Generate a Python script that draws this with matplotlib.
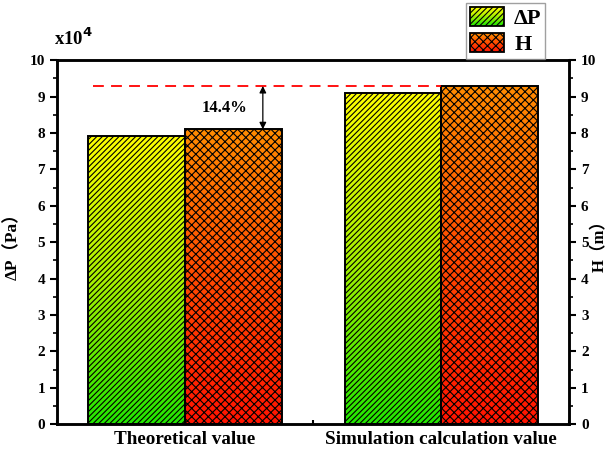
import numpy as np
import matplotlib
matplotlib.use('Agg')
import matplotlib.pyplot as plt
from matplotlib.colors import LinearSegmentedColormap
from matplotlib.patches import Rectangle
from matplotlib.legend_handler import HandlerBase
from matplotlib.ticker import MultipleLocator

plt.rcParams['font.family'] = ['Liberation Serif', 'DejaVu Serif']
plt.rcParams['font.weight'] = 'bold'
plt.rcParams['hatch.linewidth'] = 0.8

# data (x10^4 Pa and m)
categories = ['Theoretical value', 'Simulation calculation value']
dp_values = [7.92, 9.10]
h_values = [8.10, 9.29]
ref_line = 9.29
gap_label = '14.4%'

cmap_dp = LinearSegmentedColormap.from_list('dp', ['#22e600', '#a8f000', '#ffff00'])
cmap_h = LinearSegmentedColormap.from_list('h', ['#ff1400', '#ff4a00', '#ff8c00'])

fig = plt.figure(figsize=(6.12, 4.59), dpi=100)
ax = fig.add_axes([0.093, 0.076, 0.837, 0.793])

x = np.arange(len(categories))
w = 0.377
grad = np.linspace(0, 1, 256).reshape(-1, 1)


def grad_bars(xs, vals, cmap, hatch, align_left):
    off = 0 if align_left else -w
    bars = ax.bar(xs + off, vals, w, align='edge', facecolor='none',
                  edgecolor='black', linewidth=1.4, hatch=hatch, zorder=3)
    for b in bars:
        x0, h = b.get_x(), b.get_height()
        im = ax.imshow(grad, cmap=cmap, origin='lower', aspect='auto',
                       extent=[x0, x0 + b.get_width(), 0, h], zorder=2)
        im.set_clip_path(b)
    return bars


grad_bars(x, dp_values, cmap_dp, '//////', False)
grad_bars(x, h_values, cmap_h, 'xxxx', True)

# reference line and difference arrow
ax.hlines(ref_line, -0.36, x[1], colors='red', linestyles=(0, (6, 4)), linewidth=1.3, zorder=4)
ax.annotate('', xy=(0.304, h_values[0]), xytext=(0.304, ref_line),
            arrowprops=dict(arrowstyle='<|-|>', color='black', lw=0.9,
                            mutation_scale=10, shrinkA=0, shrinkB=0), zorder=5)
ax.text(0.156, 8.68, gap_label, ha='center', va='center', fontsize=12, fontweight='bold')

ax.set_xlim(-0.5, 1.5)
ax.set_ylim(0, 10)
ax.set_xticks(x)
ax.set_xticklabels(categories, fontsize=13.8, fontweight='bold')
ax.tick_params(axis='x', length=0, pad=5)
ax.xaxis.set_minor_locator(MultipleLocator(0.5))
ax.tick_params(axis='x', which='minor', direction='in', length=3, width=1.5)
ax.set_yticks(range(0, 11))
ax.yaxis.set_minor_locator(MultipleLocator(0.5))
ax.tick_params(axis='y', which='major', direction='out', length=5, width=1.5, labelsize=11)
ax.tick_params(axis='y', which='minor', direction='out', length=3, width=1.2)
for s in ax.spines.values():
    s.set_linewidth(1.8)
ax.set_ylabel('ΔP（Pa）', fontsize=12.5, fontweight='bold',
              family=['Liberation Serif', 'Noto Sans CJK SC'])
ax.yaxis.set_label_coords(-0.07, 0.5)
ax.text(-0.005, 1.03, 'x10$^{\\mathbf{4}}$', transform=ax.transAxes, fontsize=13.5,
        fontweight='bold', ha='left', va='bottom')

ax2 = ax.twinx()
ax2.set_ylim(0, 10)
ax2.set_yticks(range(0, 11))
ax2.yaxis.set_minor_locator(MultipleLocator(0.5))
ax2.tick_params(axis='y', which='major', direction='out', length=5, width=1.5, labelsize=11)
ax2.tick_params(axis='y', which='minor', direction='out', length=3, width=1.2)
for s in ax2.spines.values():
    s.set_linewidth(1.8)
ax2.set_ylabel('H（m）', fontsize=12, fontweight='bold',
               family=['Liberation Serif', 'Noto Sans CJK SC'])
ax2.yaxis.set_label_coords(1.045, 0.5)


class GradHandler(HandlerBase):
    def __init__(self, cmap, hatch):
        super().__init__()
        self.cmap = cmap
        self.hatch = hatch

    def create_artists(self, legend, orig_handle, xdescent, ydescent,
                       width, height, fontsize, trans):
        arts = []
        n = 16
        for i in range(n):
            arts.append(Rectangle((-xdescent, -ydescent + i * height / n), width, height / n + 0.3,
                                  facecolor=self.cmap(i / (n - 1)), edgecolor='none', transform=trans))
        arts.append(Rectangle((-xdescent, -ydescent), width, height, facecolor='none',
                              edgecolor='black', hatch=self.hatch, linewidth=1.3, transform=trans))
        return arts


h1, h2 = Rectangle((0, 0), 1, 1), Rectangle((0, 0), 1, 1)
leg = fig.legend([h1, h2], ['ΔP', 'H'], loc='upper left', bbox_to_anchor=(0.762, 0.993),
                 handler_map={h1: GradHandler(cmap_dp, '//////'), h2: GradHandler(cmap_h, 'xxxx')},
                 prop={'size': 16, 'weight': 'bold'}, fancybox=False, edgecolor='#888888',
                 handlelength=1.55, handleheight=0.95, borderpad=0.15, labelspacing=0.2,
                 handletextpad=0.45, borderaxespad=0)
leg.get_frame().set_linewidth(1.0)

fig.savefig('out.png', dpi=100)
